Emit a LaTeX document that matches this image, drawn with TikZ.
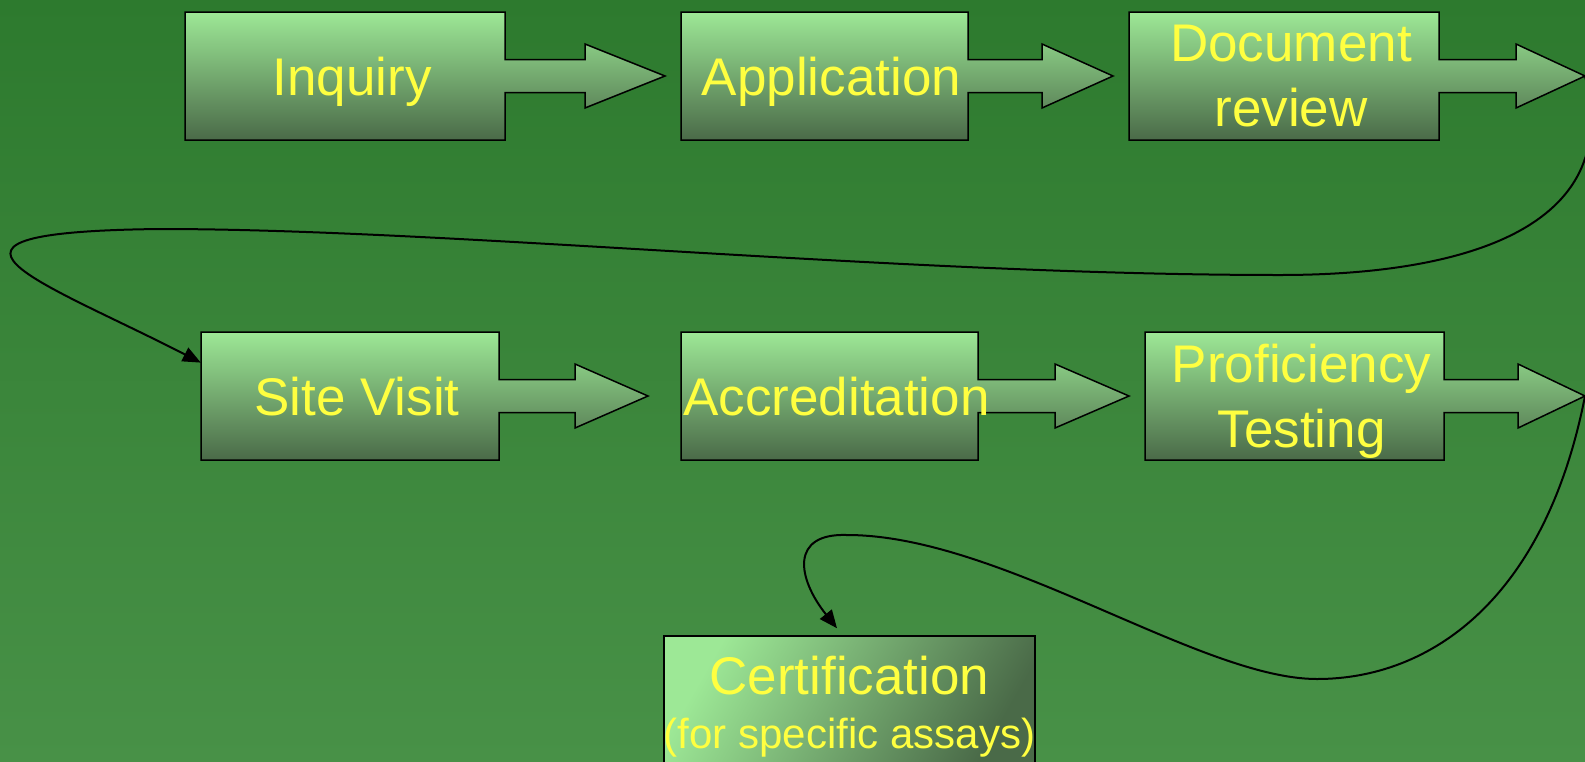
\documentclass[tikz,border=0pt]{standalone}
\usepackage{fontspec}
\setmainfont{Liberation Sans}
\usetikzlibrary{arrows.meta,calc}
\definecolor{bgtop}{RGB}{45,122,46}
\definecolor{bgbot}{RGB}{72,145,71}
\definecolor{boxlight}{RGB}{157,232,150}
\definecolor{boxdark}{RGB}{74,106,72}
\definecolor{txt}{RGB}{255,255,64}
\tikzset{
  boxshade/.style={draw=black, line width=1.5pt, line join=miter, top color=boxlight, bottom color=boxdark},
  boxtext/.style={inner sep=0pt, minimum height=128, text depth=0pt, align=center, text=txt,
                  font=\fontsize{53}{65}\selectfont},
  certbox/.style={draw=black, line width=1.5pt, top color=boxlight, bottom color=boxdark, shading angle=60,
                  inner sep=0pt, minimum width=369, minimum height=132, text depth=0pt, align=center, text=txt,
                  font=\fontsize{53}{54}\selectfont},
  conn/.style={draw=black, line width=2pt, -{Triangle[length=18pt,width=15pt]}}
}
% #1 name, #2 left, #3 right, #4 centre y, #5 head base x, #6 tip x, #7 text
\newcommand\callout[7]{%
  \path[boxshade] (#2,#4-64) -- (#3,#4-64) -- (#3,#4-16.5) -- (#5,#4-16.5) -- (#5,#4-32) -- (#6,#4)
     -- (#5,#4+32) -- (#5,#4+16.5) -- (#3,#4+16.5) -- (#3,#4+64) -- (#2,#4+64) -- cycle;
  \coordinate (#1box) at ({(#2+#3)/2},#4);
  \node[boxtext, minimum width={#3-#2}] (#1) at ($(#1box)+(0,0)$) {\hspace*{14pt}#7};
  \coordinate (#1tip) at (#6,#4);
}
\begin{document}
\begin{tikzpicture}[x=1pt,y=-1pt]
\useasboundingbox (0,0) rectangle (1585,761);
\shade[top color=bgtop, bottom color=bgbot] (0,0) rectangle (1585,761);
\clip (0,0) rectangle (1585,761);

\callout{inq}{185}{505}{76}{585}{665}{Inquiry}
\callout{app}{681}{968}{76}{1042}{1113}{Application}
\callout{doc}{1129}{1439}{76}{1516}{1585}{Document\\\hspace*{14pt}review}
\callout{site}{201}{499}{396}{575}{648}{Site Visit}
\callout{accr}{681}{978}{396}{1055}{1129}{Accreditation}
\callout{prof}{1145}{1444}{396}{1518}{1585}{Proficiency\\\hspace*{14pt}Testing}

\node[certbox] (cert) at (849.5,702) {Certification\\{\fontsize{42}{54}\selectfont (for specific assays)}};

\draw[conn] (doctip) .. controls (1625,230) and (1460,275) .. (1280,275)
  .. controls (900,275) and (450,229) .. (160,229)
  .. controls (-110,232) and (40,280) .. ($(site.north west)!0.24!(site.south west)$);

\draw[conn] (proftip) .. controls (1545,600) and (1430,679) .. (1317,679)
  .. controls (1200,679) and (1000,535) .. (847,535)
  .. controls (790,533) and (797,578) .. ($(cert.north)+(-12.5,-7)$);
\end{tikzpicture}
\end{document}
